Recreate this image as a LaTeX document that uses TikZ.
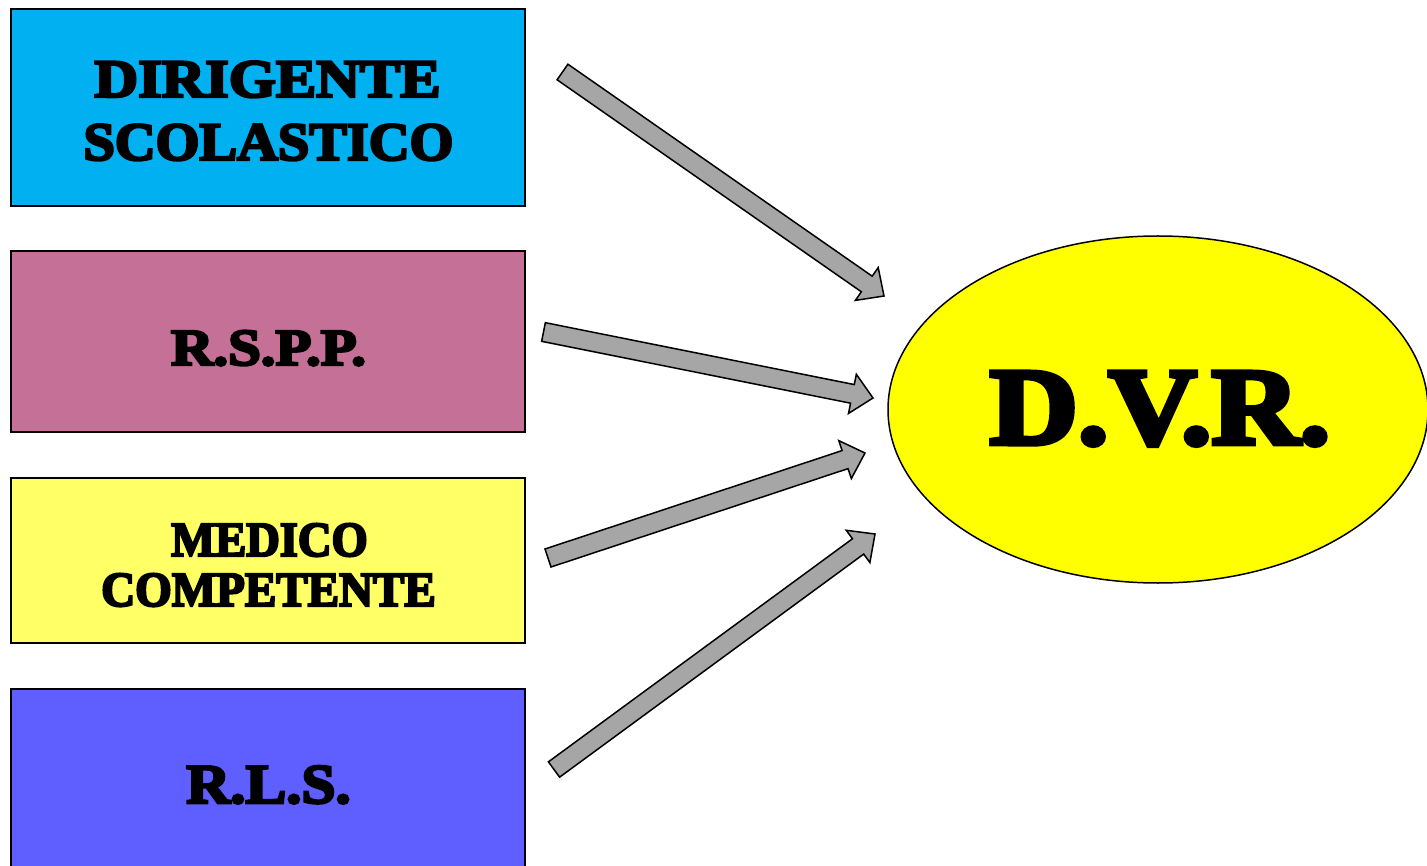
\documentclass[tikz,border=0pt]{standalone}
\usepackage{fontspec}
\usepackage{graphicx}
\newfontfamily\stencil{Liberation Serif}[BoldFeatures={FakeBold=4.5}]
\usetikzlibrary{calc,shapes.geometric}
\definecolor{cblue}{HTML}{00B0F0}
\definecolor{cmauve}{HTML}{C57097}
\definecolor{clyellow}{HTML}{FFFF66}
\definecolor{cviolet}{HTML}{5F5FFF}
\definecolor{cgrey}{HTML}{A6A6A6}
\definecolor{cyellow}{HTML}{FFFF00}
\tikzset{
  box/.style={draw=black, line width=1.5pt, rectangle, inner sep=0pt},
  lbl/.style={font=\stencil\bfseries\fontsize{54}{60}\selectfont, anchor=base, inner sep=0pt},
  blockarr/.style={draw=black, fill=cgrey, line width=1.5pt, line join=miter}
}
\newcommand\blockarrow[2]{%
  \coordinate (neck) at ($(#2)!21pt!(#1)$);
  \draw[blockarr] ($(#1)!9.5pt!90:(#2)$) -- ($(neck)!9.5pt!-90:(#1)$) --
    ($(neck)!20pt!-90:(#1)$) -- (#2) -- ($(neck)!20pt!90:(#1)$) --
    ($(neck)!9.5pt!90:(#1)$) -- ($(#1)!9.5pt!-90:(#2)$) -- cycle;
}
\begin{document}
\begin{tikzpicture}[x=1pt,y=-1pt]
\useasboundingbox (0,0) rectangle (1427,866);
% boxes
\node[box, fill=cblue, minimum width=514pt, minimum height=197pt] (b1) at (268,107.5) {};
\node[box, fill=cmauve, minimum width=514pt, minimum height=181pt] (b2) at (268,341.5) {};
\node[box, fill=clyellow, minimum width=514pt, minimum height=165pt] (b3) at (268,560.5) {};
\node[box, fill=cviolet, minimum width=514pt, minimum height=200pt] (b4) at (268,789) {};
% ellipse
\node[draw=black, line width=1.5pt, fill=cyellow, ellipse, minimum width=540pt, minimum height=347pt, inner sep=0pt] (dvr) at (1158,409.5) {};
% texts
\node[lbl] (t1a) at (267.5,97) {\scalebox{1.12}[1]{DIRIGENTE}};
\node[lbl] (t1b) at (268.5,160) {\scalebox{1.045}[1]{SCOLASTICO}};
\node[lbl, font=\stencil\bfseries\fontsize{52}{60}\selectfont] (t2) at (268.5,365) {\scalebox{1.13}[1]{R.S.P.P.}};
\node[lbl, font=\stencil\bfseries\fontsize{49}{60}\selectfont] (t3a) at (269.5,556) {\scalebox{0.95}[1]{MEDICO}};
\node[lbl, font=\stencil\bfseries\fontsize{49}{60}\selectfont] (t3b) at (268.5,606) {\scalebox{0.96}[1]{COMPETENTE}};
\node[lbl, font=\stencil\bfseries\fontsize{56}{60}\selectfont] (t4) at (268.5,803) {\scalebox{1.09}[1]{R.L.S.}};
\node[lbl, font=\stencil\bfseries\fontsize{110}{120}\selectfont] (t5) at (1160,444) {\scalebox{1.11}[1]{D.V.R.}};
% arrows
\coordinate (a1s) at (562.5,72);   \coordinate (a1e) at (884,296);
\coordinate (a2s) at (543.5,332); \coordinate (a2e) at (873,398);
\coordinate (a3s) at (548,558);  \coordinate (a3e) at (865,453);
\coordinate (a4s) at (554,769.5); \coordinate (a4e) at (875,534);
\blockarrow{a1s}{a1e}
\blockarrow{a2s}{a2e}
\blockarrow{a3s}{a3e}
\blockarrow{a4s}{a4e}
\end{tikzpicture}
\end{document}
